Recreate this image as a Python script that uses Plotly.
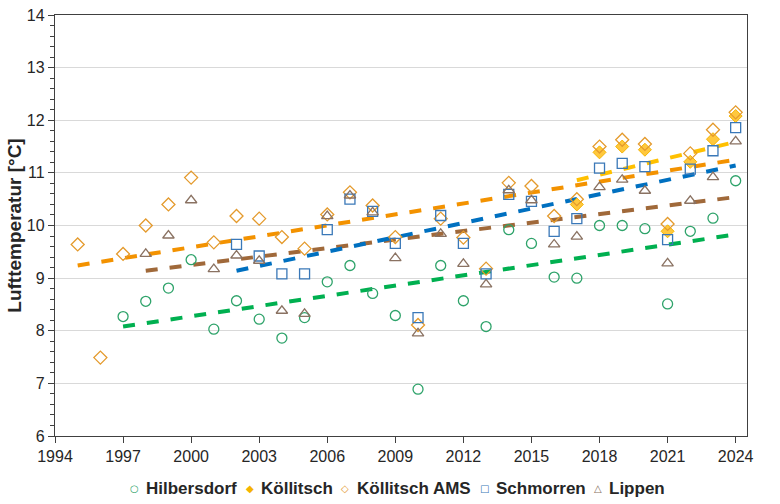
import plotly.graph_objects as go

# ---- data (annual mean air temperature, °C) ----
years_hil = list(range(1997, 2025))
hilbersdorf = [8.27, 8.56, 8.81, 9.35, 8.03, 8.57, 8.22, 7.86, 8.25, 8.93,
               9.24, 8.71, 8.29, 6.89, 9.24, 8.57, 8.08, 9.92, 9.66, 9.02,
               9.00, 10.00, 10.00, 9.94, 8.51, 9.89, 10.14, 10.85]

years_koe = list(range(2017, 2025))
koellitsch = [10.40, 11.39, 11.50, 11.44, 9.89, 11.21, 11.64, 12.08]

years_ams = list(range(1995, 2025))
koellitsch_ams = [9.64, 7.49, 9.46, 10.00, 10.40, 10.91, 9.68, 10.18, 10.13, 9.78,
                  9.56, 10.21, 10.63, 10.38, 9.78, 8.11, 10.13, 9.77, 9.18, 10.81,
                  10.75, 10.18, 10.50, 11.50, 11.63, 11.55, 10.03, 11.37, 11.82, 12.15]

years_sch = list(range(2002, 2025))
schmorren = [9.64, 9.42, 9.08, 9.08, 9.92, 10.50, 10.27, 9.66, 8.25, 10.19,
             9.66, 9.08, 10.59, 10.46, 9.89, 10.13, 11.09, 11.18, 11.12, 9.73,
             11.07, 11.42, 11.86]

years_lip = list(range(1998, 2025))
lippen = [9.46, 9.81, 10.48, 9.17, 9.43, 9.33, 8.38, 8.32, 10.18, 10.57,
          10.25, 9.38, 7.95, 9.84, 9.27, 8.88, 10.67, 10.48, 9.64, 9.79,
          10.73, 10.87, 10.66, 9.28, 10.47, 10.92, 11.60]

# linear trend lines (start/end year and value)
trend_hil_x = [1997, 2024]; trend_hil_y = [8.08, 9.83]
trend_koe_x = [2017, 2024]; trend_koe_y = [10.86, 11.59]
trend_ams_x = [1995, 2024]; trend_ams_y = [9.24, 11.25]
trend_sch_x = [2002, 2024]; trend_sch_y = [9.14, 11.14]
trend_lip_x = [1998, 2024]; trend_lip_y = [9.14, 10.54]

x_ticks = list(range(1994, 2025, 3))
y_ticks = list(range(6, 15))

series_names = ["Hilbersdorf", "Köllitsch", "Köllitsch AMS", "Schmorren", "Lippen"]
legend_glyphs = ["○", "◆", "◇", "□", "△"]

FONT = "Liberation Sans, Arial, sans-serif"
TXT = "#262626"

C_HIL, C_KOE, C_AMS, C_SCH, C_LIP = "#2EA36A", "#FFC83D", "#E49A2C", "#3A78B8", "#8A7262"
LEG_COLORS = [C_HIL, "#F5B400", C_AMS, C_SCH, C_LIP]

fig = go.Figure()

def trend(x, y, color):
    fig.add_trace(go.Scatter(x=x, y=y, mode="lines", showlegend=False,
                             hoverinfo="skip",
                             line=dict(color=color, width=4, dash="dash")))

trend(trend_hil_x, trend_hil_y, "#00B050")
trend(trend_lip_x, trend_lip_y, "#A0693A")
trend(trend_sch_x, trend_sch_y, "#0070C0")
trend(trend_ams_x, trend_ams_y, "#F39200")
trend(trend_koe_x, trend_koe_y, "#FFC000")

MS = 10
fig.add_trace(go.Scatter(x=years_hil, y=hilbersdorf, mode="markers", name=series_names[0],
                         marker=dict(symbol="circle-open", size=MS, color=C_HIL,
                                     line=dict(width=1.3))))
fig.add_trace(go.Scatter(x=years_koe, y=koellitsch, mode="markers", name=series_names[1],
                         marker=dict(symbol="diamond", size=MS, color=C_KOE,
                                     line=dict(width=1, color="#F5B400"))))
fig.add_trace(go.Scatter(x=years_ams, y=koellitsch_ams, mode="markers", name=series_names[2],
                         marker=dict(symbol="diamond-open", size=MS, color=C_AMS,
                                     line=dict(width=1.3))))
fig.add_trace(go.Scatter(x=years_sch, y=schmorren, mode="markers", name=series_names[3],
                         marker=dict(symbol="square-open", size=MS, color=C_SCH,
                                     line=dict(width=1.3))))
fig.add_trace(go.Scatter(x=years_lip, y=lippen, mode="markers", name=series_names[4],
                         marker=dict(symbol="triangle-up-open", size=MS, color=C_LIP,
                                     line=dict(width=1.3))))

W, H = 780, 504
ML, MR, MT, MB = 55, 33, 15, 68
PW, PH = W - ML - MR, H - MT - MB

# legend row (below the plot): glyph centre and text start, in pixels
leg_glyph_px = [134, 250, 345, 484, 598]
leg_text_px = [144, 259, 355, 494, 607]
leg_y_px = 488
ann = []
yp = (H - MB - leg_y_px) / PH
for g, t, name, glyph, col in zip(leg_glyph_px, leg_text_px, series_names,
                                  legend_glyphs, LEG_COLORS):
    ann.append(dict(x=(g - ML) / PW, y=yp, xref="paper", yref="paper",
                    xanchor="center", yanchor="middle", showarrow=False,
                    text=glyph, font=dict(family="DejaVu Sans", size=10, color=col)))
    ann.append(dict(x=(t - ML) / PW, y=yp, xref="paper", yref="paper",
                    xanchor="left", yanchor="middle", showarrow=False,
                    text="<b>" + name + "</b>",
                    font=dict(family=FONT, size=17, color=TXT)))

fig.update_layout(
    width=W, height=H,
    margin=dict(l=ML, r=MR, t=MT, b=MB, autoexpand=False),
    paper_bgcolor="white", plot_bgcolor="white",
    font=dict(family=FONT, size=16, color=TXT),
    showlegend=False,
    annotations=ann,
)
fig.update_xaxes(range=[1994, 2024.5], tickvals=x_ticks, ticktext=[str(v) for v in x_ticks],
                 automargin=False,
                 showgrid=False, zeroline=False, showline=True, linecolor="#404040",
                 linewidth=1.3, mirror=True, ticks="outside", ticklen=6,
                 tickcolor="#404040", tickfont=dict(size=16))
fig.update_yaxes(range=[6, 14], tickvals=y_ticks, showgrid=True, gridcolor="#D9D9D9",
                 automargin=False,
                 gridwidth=1, zeroline=False, showline=True, linecolor="#404040",
                 linewidth=1.3, mirror=True, ticks="outside", ticklen=6,
                 tickcolor="#404040", tickfont=dict(size=16),
                 minor=dict(dtick=0.2, ticks="outside", ticklen=4, tickcolor="#404040",
                            showgrid=False),
                 title=dict(text="Lufttemperatur [°C]", standoff=0,
                            font=dict(family=FONT, size=19, color=TXT, weight="bold")))

# remove the default page margin so the figure sits at the window's top-left corner
fig.write_html("out.html", config={"displayModeBar": False},
               post_script="document.body.style.margin='0';")
